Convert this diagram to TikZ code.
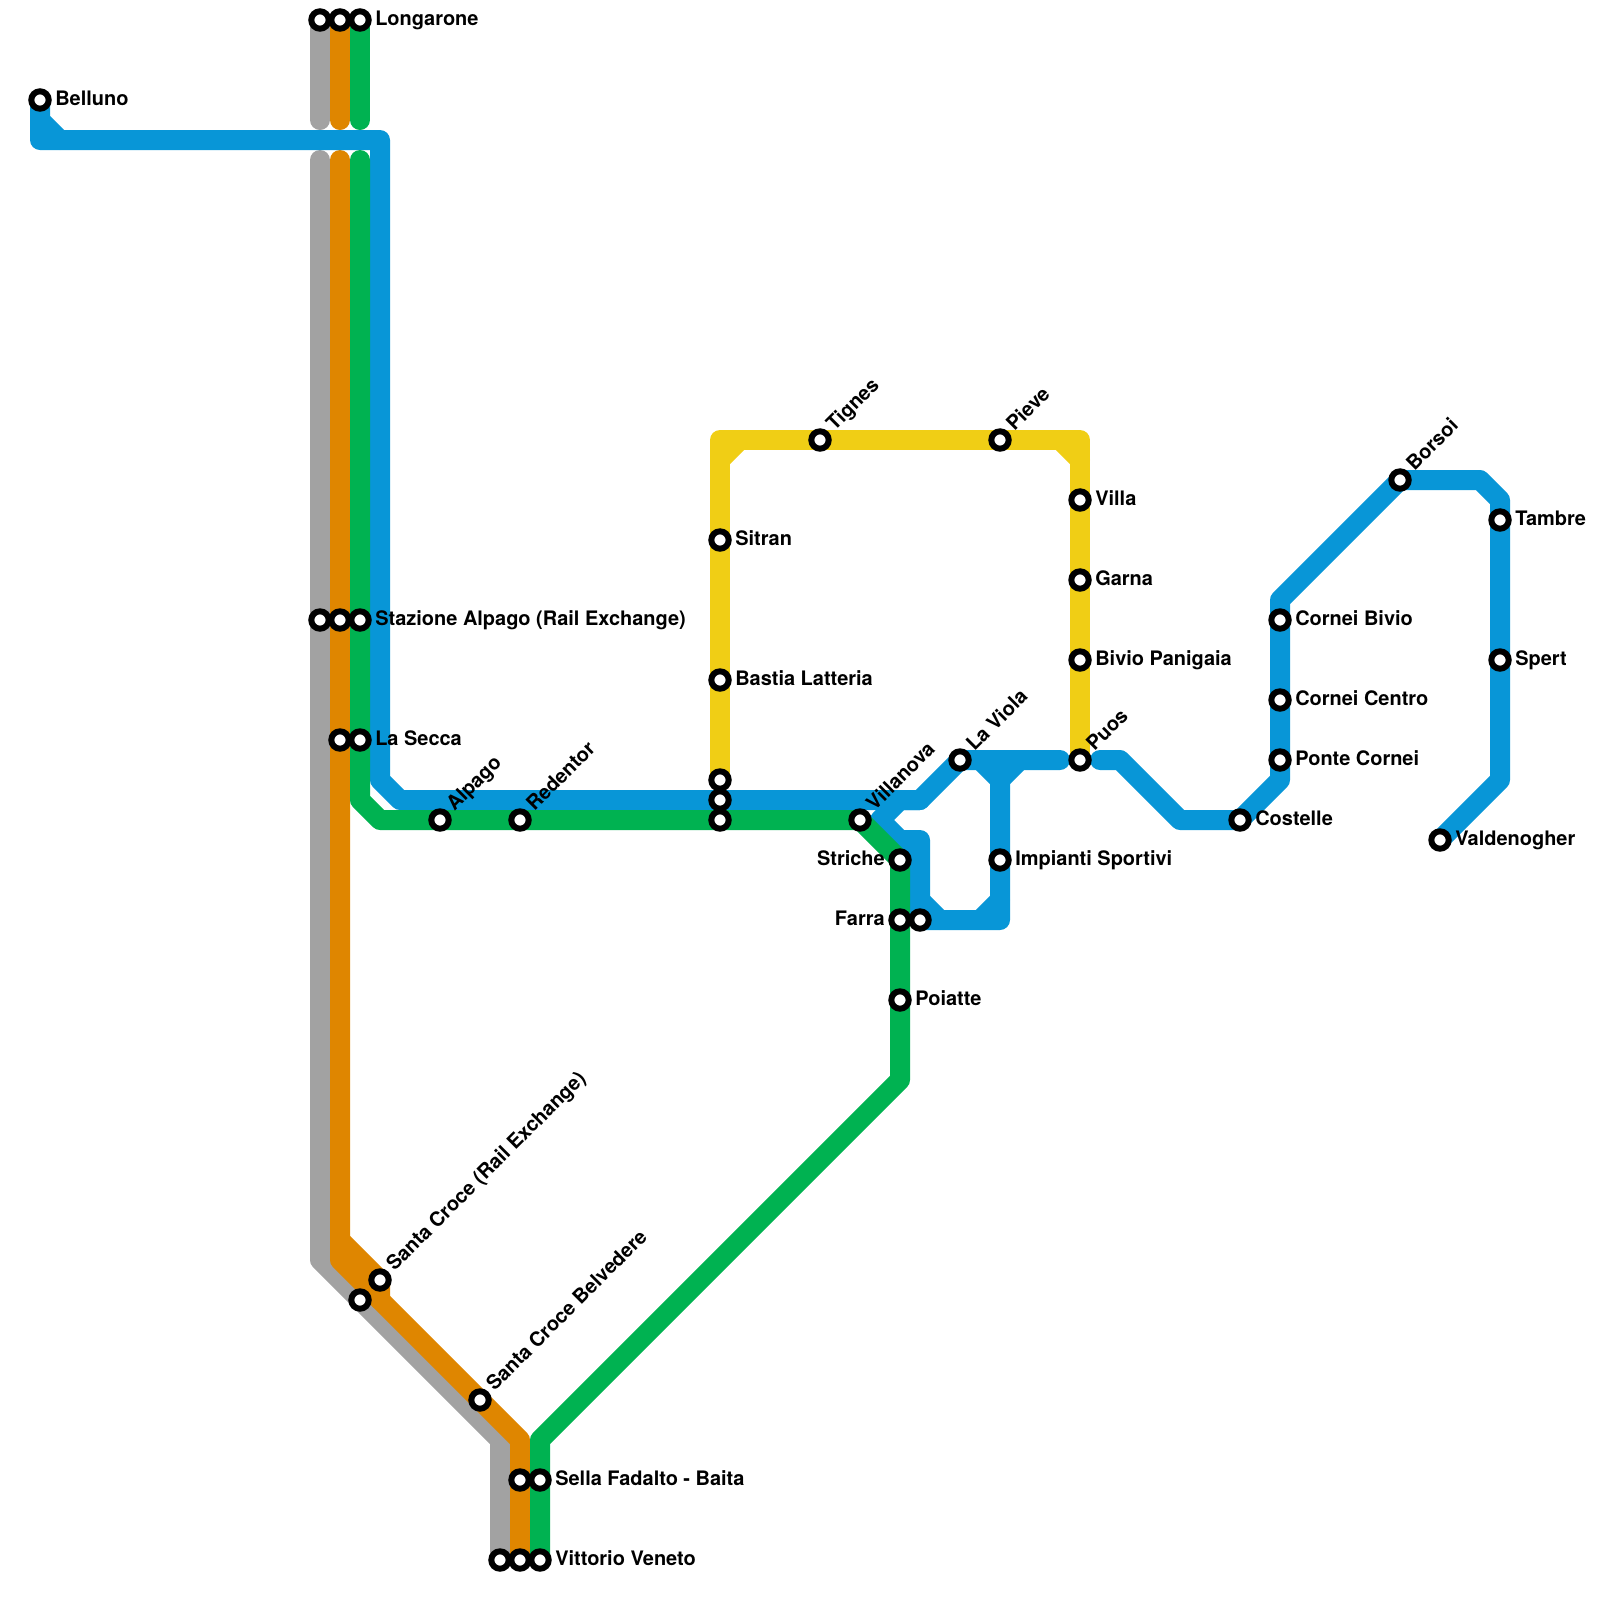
\documentclass[tikz,border=0pt]{standalone}
\usepackage{fontspec}
\setmainfont{TeX Gyre Heros}
\begin{document}
\begin{tikzpicture}[
        x=0.5cm, y=-0.5cm,
        font=\bfseries\fontsize{14.2}{16}\selectfont,
        route/.style={line width=0.5cm, line cap=round, line join=round},
        stop/.style={
            circle, draw=black, line width=0.15cm,
            fill=white, minimum size=0.435cm, inner sep=0pt
        },
        namer/.style={anchor=base west, inner sep=0pt, xshift=0.375cm, yshift=-0.125cm},
        namel/.style={anchor=base east, inner sep=0pt, xshift=-0.375cm, yshift=-0.125cm},
        namea/.style={anchor=base west, inner sep=0pt, xshift=0.36cm, yshift=0.2cm, rotate=45}
    ]
    \definecolor{linegray}{HTML}{A2A2A2}
    \definecolor{lineorange}{HTML}{DF8600}
    \definecolor{linegreen}{HTML}{00B251}
    \definecolor{lineblue}{HTML}{0896D7}
    \definecolor{lineyellow}{HTML}{F0CE15}

    \useasboundingbox (0, 0) rectangle (80, 80);

    % Gray line
    \draw[route, linegray] (16, 1) -- (16, 6);
    \draw[route, linegray] (16, 8) -- (16, 63) -- (25, 72) -- (25, 78);

    % Orange line
    \draw[route, lineorange] (17, 1) -- (17, 6);
    \draw[route, lineorange] (17, 8) -- (17, 63) -- (26, 72) -- (26, 78);
    \draw[route, lineorange] (17, 62) -- (19, 64) -- (19, 65);

    % Yellow line
    \draw[route, lineyellow] (36, 39) -- (36, 22) -- (54, 22) -- (54, 38);
    \draw[route, lineyellow] (36, 23) -- (37, 22);
    \draw[route, lineyellow] (53, 22) -- (54, 23);

    % Blue line, west part
    \draw[route, lineblue] (2, 5) -- (2, 6) -- (3, 7);
    \draw[route, lineblue] (2, 6) -- (2, 7) -- (19, 7) -- (19, 39) -- (20, 40)
        -- (46, 40) -- (48, 38) -- (53, 38);

    % Blue loop
    \draw[route, lineblue] (46, 40) -- (45, 40) -- (44, 41) -- (45, 42)
        -- (46, 42) -- (46, 46) -- (50, 46) -- (50, 39) -- (49, 38);
    \draw[route, lineblue] (45, 42) -- (45, 45);
    \draw[route, lineblue] (50, 39) -- (51, 38);
    \draw[route, lineblue] (46, 45) -- (47, 46);
    \draw[route, lineblue] (49, 46) -- (50, 45);

    % Blue line, east part
    \draw[route, lineblue] (55, 38) -- (56, 38) -- (59, 41) -- (62, 41)
        -- (64, 39) -- (64, 30) -- (70, 24) -- (74, 24) -- (75, 25)
        -- (75, 39) -- (72, 42);

    % Green line
    \draw[route, linegreen] (18, 1) -- (18, 6);
    \draw[route, linegreen] (18, 8) -- (18, 40) -- (19, 41) -- (43, 41)
        -- (45, 43) -- (45, 54) -- (27, 72) -- (27, 78);

    % Stops
    \node[stop] (belluno) at (2, 5) {};
    \node[stop] (longaroneg) at (16, 1) {};
    \node[stop] (longaroneo) at (17, 1) {};
    \node[stop] (longarone) at (18, 1) {};
    \node[stop] (alpagog) at (16, 31) {};
    \node[stop] (alpagoo) at (17, 31) {};
    \node[stop] (alpagost) at (18, 31) {};
    \node[stop] (seccao) at (17, 37) {};
    \node[stop] (secca) at (18, 37) {};
    \node[stop] (alpago) at (22, 41) {};
    \node[stop] (redentor) at (26, 41) {};
    \node[stop] (junctiony) at (36, 39) {};
    \node[stop] (junctionb) at (36, 40) {};
    \node[stop] (junctiong) at (36, 41) {};
    \node[stop] (sitran) at (36, 27) {};
    \node[stop] (bastia) at (36, 34) {};
    \node[stop] (tignes) at (41, 22) {};
    \node[stop] (pieve) at (50, 22) {};
    \node[stop] (villa) at (54, 25) {};
    \node[stop] (garna) at (54, 29) {};
    \node[stop] (panigaia) at (54, 33) {};
    \node[stop] (puos) at (54, 38) {};
    \node[stop] (villanova) at (43, 41) {};
    \node[stop] (laviola) at (48, 38) {};
    \node[stop] (striche) at (45, 43) {};
    \node[stop] (farra) at (45, 46) {};
    \node[stop] (farrab) at (46, 46) {};
    \node[stop] (poiatte) at (45, 50) {};
    \node[stop] (impianti) at (50, 43) {};
    \node[stop] (costelle) at (62, 41) {};
    \node[stop] (bivio) at (64, 31) {};
    \node[stop] (centro) at (64, 35) {};
    \node[stop] (ponte) at (64, 38) {};
    \node[stop] (borsoi) at (70, 24) {};
    \node[stop] (tambre) at (75, 26) {};
    \node[stop] (spert) at (75, 33) {};
    \node[stop] (valdenogher) at (72, 42) {};
    \node[stop] (crocer) at (19, 64) {};
    \node[stop] (croceg) at (18, 65) {};
    \node[stop] (belvedere) at (24, 70) {};
    \node[stop] (sellao) at (26, 74) {};
    \node[stop] (sella) at (27, 74) {};
    \node[stop] (venetog) at (25, 78) {};
    \node[stop] (venetoo) at (26, 78) {};
    \node[stop] (veneto) at (27, 78) {};

    % Names to the right
    \node[namer] (t-belluno) at (belluno) {Belluno};
    \node[namer] (t-longarone) at (longarone) {Longarone};
    \node[namer] (t-alpagost) at (alpagost) {Stazione Alpago (Rail Exchange)};
    \node[namer] (t-secca) at (secca) {La Secca};
    \node[namer] (t-sitran) at (sitran) {Sitran};
    \node[namer] (t-bastia) at (bastia) {Bastia Latteria};
    \node[namer] (t-villa) at (villa) {Villa};
    \node[namer] (t-garna) at (garna) {Garna};
    \node[namer] (t-panigaia) at (panigaia) {Bivio Panigaia};
    \node[namer] (t-poiatte) at (poiatte) {Poiatte};
    \node[namer] (t-impianti) at (impianti) {Impianti Sportivi};
    \node[namer] (t-costelle) at (costelle) {Costelle};
    \node[namer] (t-bivio) at (bivio) {Cornei Bivio};
    \node[namer] (t-centro) at (centro) {Cornei Centro};
    \node[namer] (t-ponte) at (ponte) {Ponte Cornei};
    \node[namer] (t-tambre) at (tambre) {Tambre};
    \node[namer] (t-spert) at (spert) {Spert};
    \node[namer] (t-valdenogher) at (valdenogher) {Valdenogher};
    \node[namer] (t-sella) at (sella) {Sella Fadalto - Baita};
    \node[namer] (t-veneto) at (veneto) {Vittorio Veneto};

    % Names to the left
    \node[namel] (t-striche) at (striche) {Striche};
    \node[namel] (t-farra) at (farra) {Farra};

    % Slanted names
    \node[namea] (t-alpago) at (alpago) {Alpago};
    \node[namea] (t-redentor) at (redentor) {Redentor};
    \node[namea] (t-tignes) at (tignes) {Tignes};
    \node[namea] (t-pieve) at (pieve) {Pieve};
    \node[namea] (t-puos) at (puos) {Puos};
    \node[namea] (t-villanova) at (villanova) {Villanova};
    \node[namea] (t-laviola) at (laviola) {La Viola};
    \node[namea] (t-borsoi) at (borsoi) {Borsoi};
    \node[namea] (t-crocer) at (crocer) {Santa Croce (Rail Exchange)};
    \node[namea] (t-belvedere) at (belvedere) {Santa Croce Belvedere};

\end{tikzpicture}
\end{document}
